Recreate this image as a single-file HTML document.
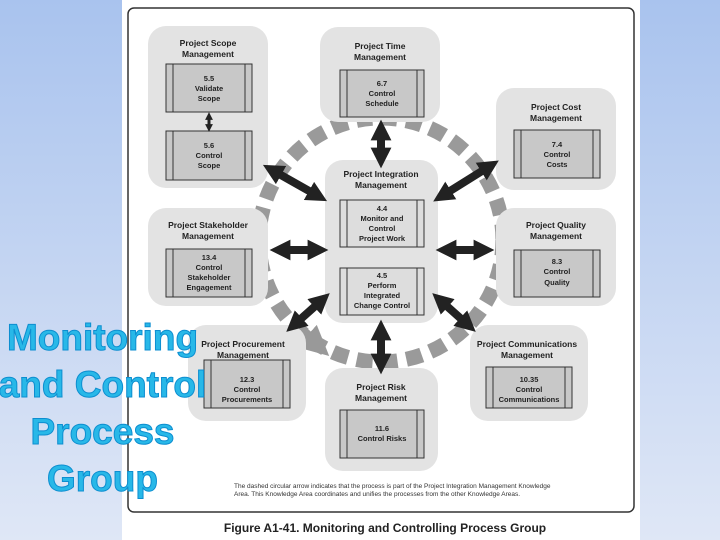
<!DOCTYPE html>
<html><head><style>
body{margin:0;width:720px;height:540px;overflow:hidden;font-family:"Liberation Sans",sans-serif;}
.bg{position:absolute;left:0;top:0;width:720px;height:540px;background:linear-gradient(#a9c3ee,#dfe7f6);}
.panel{position:absolute;left:122px;top:0;width:518px;height:540px;background:#fff;}
.big{position:absolute;left:-10px;width:225px;text-align:center;font-weight:bold;font-size:37px;color:#28b8e8;line-height:47px;top:314px;-webkit-text-stroke:1px #0d8ed0;white-space:nowrap;}
</style></head><body>
<div class="bg"></div>
<div class="panel"></div>
<svg style="position:absolute;left:0;top:0" width="720" height="540" font-family="Liberation Sans, sans-serif" font-weight="bold" text-anchor="middle">
<defs>
<marker id="h" viewBox="0 0 10 10" refX="5" refY="5" markerWidth="2.6" markerHeight="2.6" orient="auto-start-reverse"><path d="M0,0L10,5L0,10z" fill="#222"/></marker>
<marker id="g" viewBox="0 0 10 10" refX="5" refY="5" markerWidth="2.5" markerHeight="2.5" orient="auto"><path d="M0,0L10,5L0,10z" fill="#999"/></marker>
</defs>
<rect x="128" y="8" width="506" height="504" rx="6" fill="#fff" stroke="#333" stroke-width="1.5"/>
<circle cx="381" cy="240" r="122" fill="none" stroke="#9a9a9a" stroke-width="15" stroke-dasharray="16 9"/>
<path d="M300 330 L318 346" stroke="#999" stroke-width="12" marker-end="url(#g)"/>
<g fill="#e3e3e3">
<rect x="148" y="26" width="120" height="162" rx="18"/>
<rect x="320" y="27" width="120" height="95" rx="18"/>
<rect x="496" y="88" width="120" height="102" rx="18"/>
<rect x="325" y="160" width="113" height="163" rx="18"/>
<rect x="148" y="208" width="120" height="98" rx="18"/>
<rect x="496" y="208" width="120" height="98" rx="18"/>
<rect x="188" y="325" width="118" height="96" rx="18"/>
<rect x="470" y="325" width="118" height="96" rx="18"/>
<rect x="325" y="368" width="113" height="103" rx="18"/>
</g>
<g fill="#c8c8c8" stroke="#333" stroke-width="1">
<rect x="166" y="64" width="86" height="48"/><rect x="166" y="131" width="86" height="49"/>
<rect x="340" y="70" width="84" height="47"/><rect x="514" y="130" width="86" height="48"/>
<rect x="166" y="249" width="86" height="48"/><rect x="514" y="250" width="86" height="47"/>
<rect x="204" y="360" width="86" height="48"/><rect x="486" y="367" width="86" height="41"/>
<rect x="340" y="410" width="84" height="48"/>
</g>
<g fill="#ddd" stroke="#333" stroke-width="1">
<rect x="340" y="200" width="84" height="47"/><rect x="340" y="268" width="84" height="47"/>
</g>
<g stroke="#333" stroke-width="1">
<path d="M173 64v48M245 64v48M173 131v49M245 131v49M347 70v47M417 70v47M521 130v48M593 130v48M347 200v47M417 200v47M347 268v47M417 268v47M173 249v48M245 249v48M521 250v47M593 250v47M211 360v48M283 360v48M493 367v41M565 367v41M347 410v48M417 410v48"/>
</g>
<g stroke="#222" stroke-width="8" marker-start="url(#h)" marker-end="url(#h)">
<path d="M209 116 L209 128" stroke-width="3"/>
<path d="M381 130 L381 158"/>
<path d="M272 170 L318 196"/>
<path d="M490 166 L442 196"/>
<path d="M280 250 L318 250"/>
<path d="M446 250 L484 250"/>
<path d="M294 325 L322 300"/>
<path d="M440 300 L468 325"/>
<path d="M381 330 L381 364"/>
</g>
<g font-size="8.5" fill="#222">
<text x="208" y="46">Project Scope</text><text x="208" y="57">Management</text>
<text x="380" y="49">Project Time</text><text x="380" y="60">Management</text>
<text x="556" y="110">Project Cost</text><text x="556" y="121">Management</text>
<text x="381" y="177">Project Integration</text><text x="381" y="188">Management</text>
<text x="208" y="228">Project Stakeholder</text><text x="208" y="239">Management</text>
<text x="556" y="228">Project Quality</text><text x="556" y="239">Management</text>
<text x="243" y="347">Project Procurement</text><text x="243" y="358">Management</text>
<text x="527" y="347">Project Communications</text><text x="527" y="358">Management</text>
<text x="381" y="390">Project Risk</text><text x="381" y="401">Management</text>
</g>
<g font-size="7.5" fill="#222">
<text x="209" y="81">5.5</text><text x="209" y="91">Validate</text><text x="209" y="101">Scope</text>
<text x="209" y="148">5.6</text><text x="209" y="158">Control</text><text x="209" y="168">Scope</text>
<text x="382" y="86">6.7</text><text x="382" y="96">Control</text><text x="382" y="106">Schedule</text>
<text x="557" y="147">7.4</text><text x="557" y="157">Control</text><text x="557" y="167">Costs</text>
<text x="382" y="211">4.4</text><text x="382" y="221">Monitor and</text><text x="382" y="231">Control</text><text x="382" y="241">Project Work</text>
<text x="382" y="278">4.5</text><text x="382" y="288">Perform</text><text x="382" y="298">Integrated</text><text x="382" y="308">Change Control</text>
<text x="209" y="260">13.4</text><text x="209" y="270">Control</text><text x="209" y="280">Stakeholder</text><text x="209" y="290">Engagement</text>
<text x="557" y="264">8.3</text><text x="557" y="274">Control</text><text x="557" y="285">Quality</text>
<text x="247" y="382">12.3</text><text x="247" y="392">Control</text><text x="247" y="402">Procurements</text>
<text x="529" y="382">10.35</text><text x="529" y="392">Control</text><text x="529" y="402">Communications</text>
<text x="382" y="431">11.6</text><text x="382" y="441">Control Risks</text>
</g>
<g font-size="6.5" fill="#333" font-weight="normal" text-anchor="start">
<text x="234" y="488">The dashed circular arrow indicates that the process is part of the Project Integration Management Knowledge</text>
<text x="234" y="496">Area. This Knowledge Area coordinates and unifies the processes from the other Knowledge Areas.</text>
</g>
<text x="385" y="532" font-size="12" fill="#222">Figure A1-41. Monitoring and Controlling Process Group</text>
</svg>
<div class="big">Monitoring<br>and Control<br>Process<br>Group</div>
</body></html>
